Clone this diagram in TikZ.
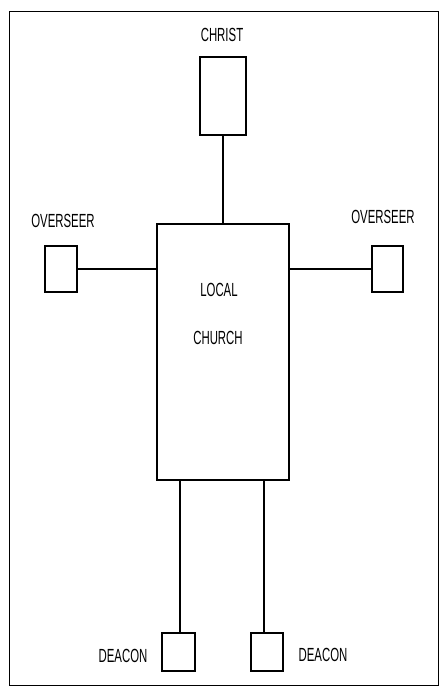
\documentclass[tikz,border=0pt]{standalone}
\usepackage{fontspec}
\setmainfont{Liberation Sans}[FakeStretch=0.6]
\tikzset{
  office/.style={draw,line width=1.4pt,inner sep=0pt},
  tie/.style={line width=1.4pt},
  caption/.style={font=\fontsize{19}{19}\selectfont,inner sep=0pt}
}
\begin{document}
\begin{tikzpicture}[x=1pt,y=-1pt]
\useasboundingbox (0,0) rectangle (439,689);
\draw[line width=0.9pt] (9,11) rectangle (438,685);
% boxes
\node[office,minimum width=46pt,minimum height=78pt] (christ) at (223,96) {};
\node[office,minimum width=132pt,minimum height=256pt] (church) at (223,352) {};
\node[office,minimum width=32pt,minimum height=46pt] (overL) at (61,269) {};
\node[office,minimum width=31pt,minimum height=46pt] (overR) at (387.5,269) {};
\node[office,minimum width=33pt,minimum height=38pt] (deacL) at (178.5,652) {};
\node[office,minimum width=32pt,minimum height=38pt] (deacR) at (267,652) {};
% labels
\node[caption] (tChrist) at (222,35) {CHRIST};
\node[caption] (tOverL) at (63,221) {OVERSEER};
\node[caption] (tOverR) at (383,217) {OVERSEER};
\node[caption] (tLocal) at (219,290) {LOCAL};
\node[caption] (tChurch) at (218,338) {CHURCH};
\node[caption] (tDeacL) at (123,656) {DEACON};
\node[caption] (tDeacR) at (323,655) {DEACON};
% connectors
\draw[tie] (christ.south) -- (church.north);
\draw[tie] (overL.east) -- (overL.east -| church.west);
\draw[tie] (overR.west) -- (overR.west -| church.east);
\draw[tie] ([xshift=1.5pt]deacL.north) -- ([xshift=1.5pt]deacL.north |- church.south);
\draw[tie] ([xshift=-3pt]deacR.north) -- ([xshift=-3pt]deacR.north |- church.south);
\end{tikzpicture}
\end{document}
